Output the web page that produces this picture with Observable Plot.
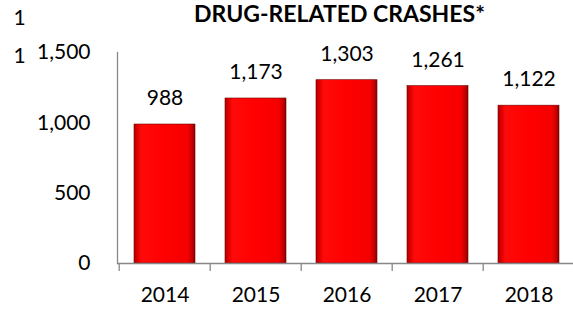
<!DOCTYPE html>
<html>
<head>
<meta charset="utf-8">
<script src="https://cdn.jsdelivr.net/npm/d3@7"></script>
<script src="https://cdn.jsdelivr.net/npm/@observablehq/plot@0.6"></script>
<style>
  html, body { margin: 0; padding: 0; background: #fff; }
  #chart { width: 573px; height: 312px; overflow: hidden; }
</style>
</head>
<body>
<div id="chart"></div>
<script>
const years = ["2014", "2015", "2016", "2017", "2018"];
const crashes = [988, 1173, 1303, 1261, 1122];
const yTicks = [0, 500, 1000, 1500];
const titleText = "DRUG-RELATED CRASHES*";
const strayLabels = ["1", "1"];

const data = years.map((y, i) => ({year: y, value: crashes[i]}));

const W = 573, H = 312, mL = 117, mR = -2, mT = 52, mB = 49;
const step = (W - mL - mR) / years.length;
const unitsPerPx = 1500 / (H - mT - mB);
const font = "Lato, 'Open Sans', sans-serif";

const defs = () => {
  const d = d3.create("svg:defs");
  const g = d.append("linearGradient").attr("id", "barGrad").attr("x1", 0).attr("x2", 1).attr("y1", 0).attr("y2", 0);
  [[0, "#b00000"], [0.06, "#e00000"], [0.12, "#ff0a0a"], [0.5, "#ff0000"], [0.88, "#f50000"], [0.95, "#c80000"], [1, "#8a0000"]]
    .forEach(([o, c]) => g.append("stop").attr("offset", o).attr("stop-color", c));
  const f = d.append("filter").attr("id", "shadow").attr("x", "-20%").attr("y", "-20%").attr("width", "150%").attr("height", "150%");
  f.append("feDropShadow").attr("dx", 2).attr("dy", 1).attr("stdDeviation", 1.5).attr("flood-color", "#000").attr("flood-opacity", 0.35);
  return d.node();
};

const chart = Plot.plot({
  width: W,
  height: H,
  marginLeft: mL,
  marginRight: mR,
  marginTop: mT,
  marginBottom: mB,
  style: {fontFamily: font, background: "#fff", overflow: "visible"},
  x: {domain: years, paddingInner: 0.33, paddingOuter: 0.165, label: null},
  y: {type: "linear", domain: [0, 1500], label: null},
  marks: [
    defs,
    Plot.axisY({ticks: yTicks, tickSize: 0, tickPadding: 27, tickFormat: d3.format(","), fontSize: 21, fill: "#000", label: null}),
    Plot.axisX({tickSize: 0, tickPadding: 24, fontSize: 21, fill: "#000", label: null}),
    Plot.barY(data, {x: "year", y: "value", fill: "url(#barGrad)", stroke: "#700000", strokeWidth: 0.6, style: "filter:url(#shadow)"}),
    Plot.frame({anchor: "left", stroke: "#888", strokeWidth: 1.3}),
    Plot.ruleY([0], {stroke: "#888", strokeWidth: 1.3}),
    Plot.ruleX(years, {x: d => d, dx: -step / 2, y1: 0, y2: -8 * unitsPerPx, stroke: "#888", strokeWidth: 1.3}),
    Plot.ruleX(years.slice(-1), {x: d => d, dx: step / 2, y1: 0, y2: -8 * unitsPerPx, stroke: "#888", strokeWidth: 1.3}),
    Plot.text(data, {x: "year", y: "value", text: d => d3.format(",")(d.value), dy: -26, fontSize: 21, fill: "#000", fontFamily: font}),
    Plot.text([titleText], {frameAnchor: "top-left", textAnchor: "middle", lineAnchor: "middle", text: d => d, dx: 339 - mL, dy: 14 - mT, fontSize: 23, fontWeight: "bold", fill: "#000", fontFamily: font}),
    Plot.text(strayLabels, {frameAnchor: "top-left", textAnchor: "middle", lineAnchor: "middle", text: d => d, dx: 19 - mL, fontSize: 21, fill: "#000", fontFamily: font, filter: (d, i) => i === 0, dy: 18 - mT}),
    Plot.text(strayLabels, {frameAnchor: "top-left", textAnchor: "middle", lineAnchor: "middle", text: d => d, dx: 19 - mL, fontSize: 21, fill: "#000", fontFamily: font, filter: (d, i) => i === 1, dy: 56 - mT})
  ]
});

document.getElementById("chart").appendChild(chart);
</script>
</body>
</html>
